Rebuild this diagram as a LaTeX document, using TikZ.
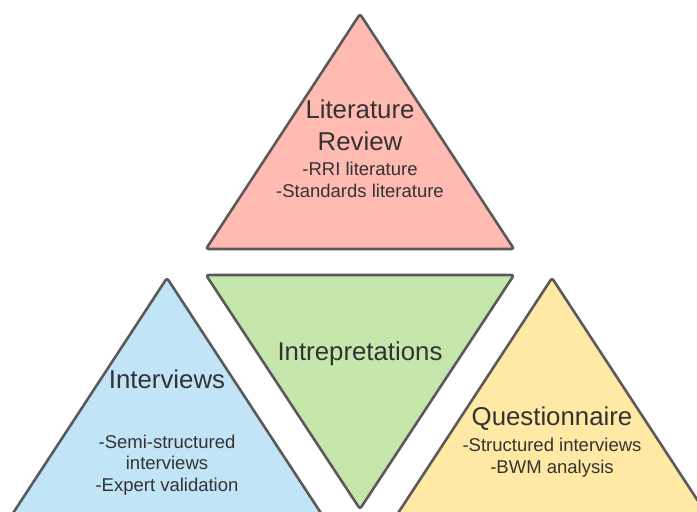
\documentclass[tikz,border=0pt]{standalone}
\usepackage{fontspec}
\setmainfont{Liberation Sans}
\definecolor{edgegray}{HTML}{5A5A5A}
\definecolor{textgray}{HTML}{333333}
\definecolor{litred}{HTML}{FFBBB1}
\definecolor{intgreen}{HTML}{C5E7AB}
\definecolor{itvblue}{HTML}{C1E4F6}
\definecolor{qstyellow}{HTML}{FFE9A5}

\begin{document}
\begin{tikzpicture}[
  x=1pt, y=-1pt,
  tri/.style={draw=edgegray, line width=2.6pt, rounded corners=2.5pt, line join=round},
  title/.style={font=\fontsize{25.8}{32}\selectfont, text=textgray, align=center, anchor=base, inner sep=0pt},
  detail/.style={font=\fontsize{18.5}{21.5}\selectfont, text=textgray, align=center, anchor=base, inner sep=0pt},
]
  \useasboundingbox (0,0) rectangle (697,512);
  \clip (0,0) rectangle (697,512);

  % 四个三角形（单位 = 像素，y 向下）
  \coordinate (LA) at (360,14);
  \coordinate (LB) at (206,249);
  \coordinate (LC) at (514,249);
  \coordinate (GA) at (206,275);
  \coordinate (GB) at (514,275);
  \coordinate (GC) at (360,509);
  \coordinate (IA) at (167,278);
  \coordinate (IB) at (8.5,520);
  \coordinate (IC) at (325.5,520);
  \coordinate (QA) at (552,278);
  \coordinate (QB) at (393.5,520);
  \coordinate (QC) at (710.5,520);

  \draw[tri, fill=litred]    (LA) -- (LB) -- (LC) -- cycle;
  \draw[tri, fill=intgreen]  (GA) -- (GB) -- (GC) -- cycle;
  \draw[tri, fill=itvblue]   (IA) -- (IB) -- (IC) -- cycle;
  \draw[tri, fill=qstyellow] (QA) -- (QB) -- (QC) -- cycle;

  % 文字（base 取最后一行的基线）
  \node[title]  (littitle) at (360,150) {Literature\\Review};
  \node[detail] (litdet)   at (360,197) {-RRI literature\\-Standards literature};
  \node[title]  (inttitle) at (360,360) {Intrepretations};
  \node[title]  (itvtitle) at (167,388) {Interviews};
  \node[detail] (itvdet)   at (167,491) {-Semi-structured\\interviews\\-Expert validation};
  \node[title]  (qsttitle) at (552,425) {Questionnaire};
  \node[detail] (qstdet)   at (552,473) {-Structured interviews\\-BWM analysis};
\end{tikzpicture}
\end{document}
